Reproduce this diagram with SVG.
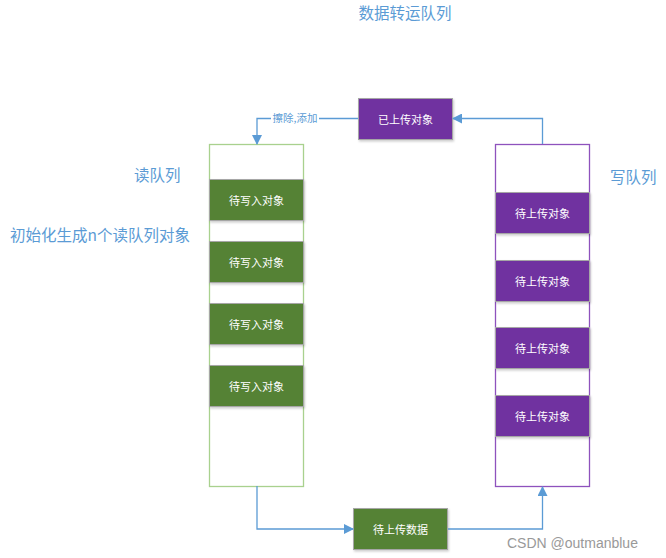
<svg xmlns="http://www.w3.org/2000/svg" width="666" height="558" viewBox="0 0 666 558">
<defs>
<marker id="ah" markerWidth="10" markerHeight="10" refX="9" refY="5" orient="auto" markerUnits="userSpaceOnUse">
<path d="M0,0 L10,5 L0,10 Z" fill="#5b9bd5"/>
</marker>
<filter id="sh" x="-10%" y="-10%" width="130%" height="140%">
<feDropShadow dx="1" dy="1.5" stdDeviation="1" flood-color="#000" flood-opacity="0.2"/>
</filter>
</defs>
<style>
.t{font-family:"Noto Sans CJK SC","Liberation Sans",sans-serif;fill:#5b9bd5;font-size:15.5px}
.bt{font-family:"Noto Sans CJK SC","Liberation Sans",sans-serif;fill:#ffffff;font-size:11px;text-anchor:middle;dominant-baseline:central}
.g{fill:#548235;stroke:#a6a6a6;stroke-width:1;filter:url(#sh)}
.p{fill:#7030a0;stroke:#a6a6a6;stroke-width:1;filter:url(#sh)}
.c{fill:none;stroke:#5b9bd5;stroke-width:1.3}
</style>
<rect width="666" height="558" fill="#ffffff"/>
<text class="t" x="405" y="19" text-anchor="middle">数据转运队列</text>
<text class="t" x="134" y="181">读队列</text>
<text class="t" x="610" y="183">写队列</text>
<text class="t" x="10" y="241">初始化生成n个读队列对象</text>
<g id="readQueue">
<rect x="209.5" y="144.5" width="94" height="342" fill="#ffffff" stroke="#a9d18e" stroke-width="1.3"/>
</g>
<g id="writeQueue">
<rect x="495.5" y="144.5" width="94" height="342" fill="#ffffff" stroke="#8e52bd" stroke-width="1.3"/>
</g>
<g id="r1"><rect class="g" x="209.5" y="179.5" width="94" height="41"/><text class="bt" x="256.5" y="200">待写入对象</text></g>
<g id="r2"><rect class="g" x="209.5" y="241.5" width="94" height="41"/><text class="bt" x="256.5" y="262">待写入对象</text></g>
<g id="r3"><rect class="g" x="209.5" y="303.5" width="94" height="41"/><text class="bt" x="256.5" y="324">待写入对象</text></g>
<g id="r4"><rect class="g" x="209.5" y="365.5" width="94" height="41"/><text class="bt" x="256.5" y="386">待写入对象</text></g>
<g id="w1"><rect class="p" x="495.5" y="192.5" width="94" height="41"/><text class="bt" x="542.5" y="213">待上传对象</text></g>
<g id="w2"><rect class="p" x="495.5" y="260.5" width="94" height="41"/><text class="bt" x="542.5" y="281">待上传对象</text></g>
<g id="w3"><rect class="p" x="495.5" y="327.5" width="94" height="41"/><text class="bt" x="542.5" y="348">待上传对象</text></g>
<g id="w4"><rect class="p" x="495.5" y="395.5" width="94" height="41"/><text class="bt" x="542.5" y="416">待上传对象</text></g>
<g id="uploaded"><rect class="p" x="358.5" y="98.5" width="94" height="41"/><text class="bt" x="405.5" y="119">已上传对象</text></g>
<g id="pending"><rect class="g" x="353.5" y="508.5" width="94" height="41"/><text class="bt" x="400.5" y="529">待上传数据</text></g>
<g id="connectors">
<path class="c" d="M542.5,144 V118.5 H453" marker-end="url(#ah)"/>
<path class="c" d="M358,118.5 H257 V144" marker-end="url(#ah)"/>
<rect x="271" y="111" width="48" height="14" fill="#ffffff"/>
<text x="295" y="122" text-anchor="middle" style="font-family:'Noto Sans CJK SC','Liberation Sans',sans-serif;font-size:10.5px;fill:#5b9bd5">擦除,添加</text>
<path class="c" d="M257,486 V529 H353" marker-end="url(#ah)"/>
<path class="c" d="M448,529 H542.5 V487" marker-end="url(#ah)"/>
</g>
<text x="507" y="548" style="font-family:'Liberation Sans',sans-serif;font-size:14px;fill:#999999">CSDN @outmanblue</text>
</svg>
